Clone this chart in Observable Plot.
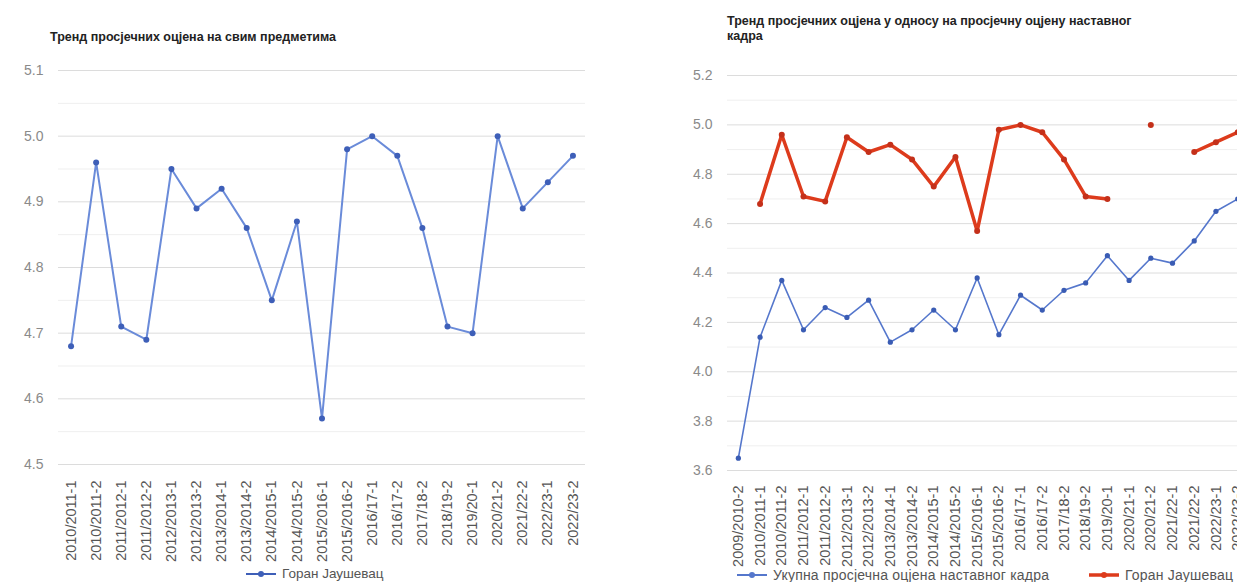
<!DOCTYPE html>
<html><head><meta charset="utf-8">
<script src="https://cdn.jsdelivr.net/npm/d3@7"></script>
<script src="https://cdn.jsdelivr.net/npm/@observablehq/plot@0.6"></script>
<style>
html,body{margin:0;padding:0;background:#fff;}
body{width:1237px;height:582px;overflow:hidden;position:relative;font-family:Arial,"Liberation Sans",sans-serif;}
.title{position:absolute;font-weight:bold;font-size:12.5px;color:#222;line-height:15px;white-space:nowrap;}
.chart{position:absolute;top:0;}
.chart svg{max-width:none !important;}
.legend{position:absolute;font-size:13.5px;color:#555;display:flex;align-items:center;white-space:nowrap;height:15px;}
.legend svg{margin-right:6px;}
</style></head><body>
<div class="title" style="left:50px;top:30px">Тренд просјечних оцјена на свим предметима</div>
<div class="title" style="left:727px;top:14px">Тренд просјечних оцјена у односу на просјечну оцјену наставног<br>кадра</div>
<div class="chart" id="left" style="left:0;width:620px"></div>
<div class="chart" id="right" style="left:620px;width:640px"></div>
<div class="legend" id="legL" style="left:246px;top:566px"></div>
<div class="legend" id="legR1" style="left:737px;top:567px;font-size:14px;letter-spacing:0.2px"></div>
<div class="legend" id="legR2" style="left:1089px;top:567px;font-size:14px;letter-spacing:0.2px"></div>
<script>
// ---- data ----
const leftTerms = ["2010/2011-1","2010/2011-2","2011/2012-1","2011/2012-2","2012/2013-1","2012/2013-2","2013/2014-1","2013/2014-2","2014/2015-1","2014/2015-2","2015/2016-1","2015/2016-2","2016/17-1","2016/17-2","2017/18-2","2018/19-2","2019/20-1","2020/21-2","2021/22-2","2022/23-1","2022/23-2"];
const leftValues = [4.68,4.96,4.71,4.69,4.95,4.89,4.92,4.86,4.75,4.87,4.57,4.98,5.00,4.97,4.86,4.71,4.70,5.00,4.89,4.93,4.97];
const leftTicks = [4.5,4.6,4.7,4.8,4.9,5.0,5.1];
const leftMinor = [4.55,4.65,4.75,4.85,4.95,5.05];

const rightTerms = ["2009/2010-2","2010/2011-1","2010/2011-2","2011/2012-1","2011/2012-2","2012/2013-1","2012/2013-2","2013/2014-1","2013/2014-2","2014/2015-1","2014/2015-2","2015/2016-1","2015/2016-2","2016/17-1","2016/17-2","2017/18-2","2018/19-2","2019/20-1","2020/21-1","2020/21-2","2021/22-1","2021/22-2","2022/23-1","2022/23-2"];
const staffValues = [3.65,4.14,4.37,4.17,4.26,4.22,4.29,4.12,4.17,4.25,4.17,4.38,4.15,4.31,4.25,4.33,4.36,4.47,4.37,4.46,4.44,4.53,4.65,4.70];
const goranValues = [null,4.68,4.96,4.71,4.69,4.95,4.89,4.92,4.86,4.75,4.87,4.57,4.98,5.00,4.97,4.86,4.71,4.70,null,5.00,null,4.89,4.93,4.97];
const rightTicks = [3.6,3.8,4.0,4.2,4.4,4.6,4.8,5.0,5.2];
const rightMinor = [3.7,3.9,4.1,4.3,4.5,4.7,4.9,5.1];

const seriesLeft = "Горан Јаушевац";
const seriesStaff = "Укупна просјечна оцјена наставног кадра";
const seriesGoran = "Горан Јаушевац";

const leftData = leftTerms.map((t,i)=>({term:t, value:leftValues[i]}));
const staffData = rightTerms.map((t,i)=>({term:t, value:staffValues[i]}));
const goranData = rightTerms.map((t,i)=>({term:t, value:goranValues[i]}));

const BLUE_L = "#6a8bd9", BLUE_DOT = "#3e5fb8";
const BLUE_R = "#5577cc";
const RED = "#dd3b1c";
const fmt = d3.format(".1f");
const font = {fontFamily:"Arial, 'Liberation Sans', sans-serif", background:"transparent", overflow:"visible", maxWidth:"none"};

const left = Plot.plot({
  width: 620, height: 560,
  marginLeft: 58, marginRight: 35, marginTop: 70, marginBottom: 96,
  style: font,
  x: {type:"point", domain: leftTerms, padding: 0.5, round: false},
  y: {domain: [4.5, 5.1]},
  marks: [
    Plot.ruleY(leftMinor, {stroke:"#efefef", strokeWidth:1}),
    Plot.ruleY(leftTicks, {stroke:"#dcdcdc", strokeWidth:1}),
    Plot.axisY(leftTicks, {tickSize:0, tickPadding:15, tickFormat:fmt, fill:"#8a8a8a", fontSize:14, label:null}),
    Plot.axisX({tickSize:0, tickPadding:16, tickRotate:-90, fill:"#555", fontSize:14.5, label:null}),
    Plot.line(leftData, {x:"term", y:"value", stroke:BLUE_L, strokeWidth:2}),
    Plot.dot(leftData, {x:"term", y:"value", r:3, fill:BLUE_DOT})
  ]
});
document.getElementById("left").appendChild(left);

const right = Plot.plot({
  width: 640, height: 560,
  marginLeft: 107, marginRight: 12, marginTop: 75, marginBottom: 90,
  style: font,
  x: {type:"point", domain: rightTerms, padding: 0.5, round: false},
  y: {domain: [3.6, 5.2]},
  marks: [
    Plot.ruleY(rightMinor, {stroke:"#efefef", strokeWidth:1}),
    Plot.ruleY(rightTicks, {stroke:"#dcdcdc", strokeWidth:1}),
    Plot.axisY(rightTicks, {tickSize:0, tickPadding:15, tickFormat:fmt, fill:"#8a8a8a", fontSize:14, label:null}),
    Plot.axisX({tickSize:0, tickPadding:15, tickRotate:-90, fill:"#555", fontSize:14.5, label:null}),
    Plot.line(staffData, {x:"term", y:"value", stroke:BLUE_R, strokeWidth:1.6}),
    Plot.dot(staffData, {x:"term", y:"value", r:2.6, fill:"#3a5cb4"}),
    Plot.line(goranData, {x:"term", y:"value", stroke:RED, strokeWidth:3.5}),
    Plot.dot(goranData, {x:"term", y:"value", r:3, fill:"#c4301a"})
  ]
});
document.getElementById("right").appendChild(right);

function swatch(color, lw, r){
  return `<svg width="30" height="10"><line x1="0" y1="5" x2="30" y2="5" stroke="${color}" stroke-width="${lw}"/><circle cx="15" cy="5" r="${r}" fill="${color}"/></svg>`;
}
document.getElementById("legL").innerHTML = swatch(BLUE_DOT,2,3) + `<span>${seriesLeft}</span>`;
document.getElementById("legR1").innerHTML = swatch(BLUE_R,2,3) + `<span>${seriesStaff}</span>`;
document.getElementById("legR2").innerHTML = swatch(RED,3.5,3) + `<span>${seriesGoran}</span>`;
</script>
</body></html>
